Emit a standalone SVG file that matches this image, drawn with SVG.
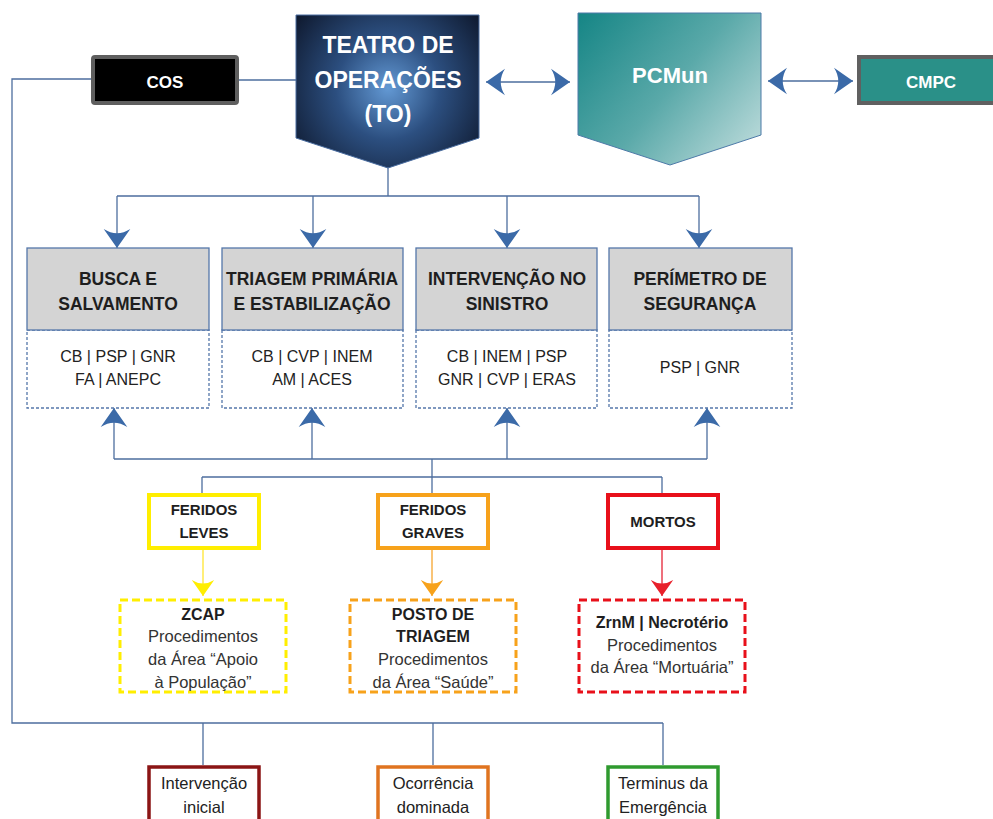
<svg xmlns="http://www.w3.org/2000/svg" width="993" height="819" viewBox="0 0 993 819">
<defs>
  <radialGradient id="gTO" cx="388" cy="88" r="115" gradientUnits="userSpaceOnUse">
    <stop offset="0" stop-color="#6399d4"/>
    <stop offset="0.45" stop-color="#2c4f80"/>
    <stop offset="1" stop-color="#0f1a30"/>
  </radialGradient>
  <linearGradient id="gPC" x1="578" y1="13" x2="761" y2="165" gradientUnits="userSpaceOnUse">
    <stop offset="0" stop-color="#158585"/>
    <stop offset="0.5" stop-color="#5aa9a9"/>
    <stop offset="1" stop-color="#c6e0e0"/>
  </linearGradient>
  <marker id="aB" viewBox="0 0 20 28" refX="20" refY="14" markerWidth="19" markerHeight="28" markerUnits="userSpaceOnUse" orient="auto-start-reverse">
    <path d="M0,0 L20,14 L0,28 Q9,14 0,0 Z" fill="#3b6aa8"/>
  </marker>
  <marker id="aY" viewBox="0 0 20 28" refX="20" refY="14" markerWidth="16" markerHeight="26" markerUnits="userSpaceOnUse" orient="auto">
    <path d="M0,0 L20,14 L0,28 Q9,14 0,0 Z" fill="#ffee00"/>
  </marker>
  <marker id="aO" viewBox="0 0 20 28" refX="20" refY="14" markerWidth="16" markerHeight="26" markerUnits="userSpaceOnUse" orient="auto">
    <path d="M0,0 L20,14 L0,28 Q9,14 0,0 Z" fill="#f7a21b"/>
  </marker>
  <marker id="aR" viewBox="0 0 20 28" refX="20" refY="14" markerWidth="16" markerHeight="26" markerUnits="userSpaceOnUse" orient="auto">
    <path d="M0,0 L20,14 L0,28 Q9,14 0,0 Z" fill="#e8202a"/>
  </marker>
</defs>
<style>
  text { font-family: "Liberation Sans", Arial, sans-serif; text-anchor: middle; }
  .conn { fill: none; stroke: #4d6e9e; stroke-width: 1.3; }
  .wb { fill: #ffffff; font-weight: bold; }
  .hd { fill: #d4d4d4; stroke: #5577aa; stroke-width: 1.3; }
  .bd { fill: #ffffff; stroke: #5577aa; stroke-width: 1.3; stroke-dasharray: 3 2; }
  .ht { font-size: 17.5px; font-weight: bold; fill: #1e1e1e; }
  .bt { font-size: 16px; fill: #222; }
  .ft { font-size: 15px; font-weight: bold; fill: #1e1e1e; }
  .pt { font-size: 16.5px; fill: #333; }
  .pb { font-size: 16px; font-weight: bold; fill: #1e1e1e; }
  .st { font-size: 16.5px; fill: #222; }
</style>

<g id="connectors">
  <path class="conn" d="M91,79 H12 V723 H663"/>
  <path class="conn" d="M239,80 H296"/>
  <path class="conn" d="M486,82 H570" marker-start="url(#aB)" marker-end="url(#aB)"/>
  <path class="conn" d="M768,81 H853" marker-start="url(#aB)" marker-end="url(#aB)"/>
  <path class="conn" d="M388,168 V196 M117,196 H699"/>
  <path class="conn" d="M117,196 V248" marker-end="url(#aB)"/>
  <path class="conn" d="M313,196 V248" marker-end="url(#aB)"/>
  <path class="conn" d="M507,196 V248" marker-end="url(#aB)"/>
  <path class="conn" d="M699,196 V248" marker-end="url(#aB)"/>
  <path class="conn" d="M114,459 H707"/>
  <path class="conn" d="M114,459 V408" marker-end="url(#aB)"/>
  <path class="conn" d="M312,459 V408" marker-end="url(#aB)"/>
  <path class="conn" d="M507,459 V408" marker-end="url(#aB)"/>
  <path class="conn" d="M707,459 V408" marker-end="url(#aB)"/>
  <path class="conn" d="M432,459 V477 M202,477 H662 M202,477 V493 M432,477 V493 M662,477 V493"/>
  <path d="M203,550 V596" fill="none" stroke="#ffe94d" stroke-width="1.5" marker-end="url(#aY)"/>
  <path d="M432,550 V596" fill="none" stroke="#f7b04a" stroke-width="1.5" marker-end="url(#aO)"/>
  <path d="M662,550 V596" fill="none" stroke="#e84050" stroke-width="1.5" marker-end="url(#aR)"/>
  <path class="conn" d="M203,723 V765 M433,723 V765 M663,723 V765"/>
</g>

<g id="cos">
  <rect x="93" y="57" width="144" height="46" rx="2" fill="#000" stroke="#5f5f5f" stroke-width="4"/>
  <text x="165" y="88" class="wb" font-size="17">COS</text>
</g>

<g id="to">
  <polygon points="296,15 479,15 479,138 388,168 296,138" fill="url(#gTO)" stroke="#4a6da0" stroke-width="1"/>
  <text x="388" y="53" class="wb" font-size="23">TEATRO DE</text>
  <text x="388" y="88" class="wb" font-size="23">OPERAÇÕES</text>
  <text x="388" y="122" class="wb" font-size="23">(TO)</text>
</g>

<g id="pcmun">
  <polygon points="578,13 761,13 761,135 670,165 578,135" fill="url(#gPC)" stroke="#4d7aa8" stroke-width="1"/>
  <text x="670" y="83" class="wb" font-size="22">PCMun</text>
</g>

<g id="cmpc">
  <rect x="859" y="57" width="140" height="46" fill="#2a9088" stroke="#606060" stroke-width="4"/>
  <text x="931" y="88" class="wb" font-size="17">CMPC</text>
</g>

<g id="busca">
  <rect class="bd" x="27" y="330" width="182" height="78"/>
  <rect class="hd" x="27" y="248" width="182" height="82"/>
  <text x="118" y="285" class="ht">BUSCA E</text>
  <text x="118" y="310" class="ht">SALVAMENTO</text>
  <text x="118" y="362" class="bt">CB | PSP | GNR</text>
  <text x="118" y="385" class="bt">FA | ANEPC</text>
</g>

<g id="triagem">
  <rect class="bd" x="222" y="330" width="181" height="78"/>
  <rect class="hd" x="222" y="248" width="181" height="82"/>
  <text x="312" y="285" class="ht">TRIAGEM PRIMÁRIA</text>
  <text x="312" y="310" class="ht">E ESTABILIZAÇÃO</text>
  <text x="312" y="362" class="bt">CB | CVP | INEM</text>
  <text x="312" y="385" class="bt">AM | ACES</text>
</g>

<g id="intervencao">
  <rect class="bd" x="416" y="330" width="181" height="78"/>
  <rect class="hd" x="416" y="248" width="181" height="82"/>
  <text x="507" y="285" class="ht">INTERVENÇÃO NO</text>
  <text x="507" y="310" class="ht">SINISTRO</text>
  <text x="507" y="362" class="bt">CB | INEM | PSP</text>
  <text x="507" y="385" class="bt">GNR | CVP | ERAS</text>
</g>

<g id="perimetro">
  <rect class="bd" x="609" y="330" width="183" height="78"/>
  <rect class="hd" x="609" y="248" width="183" height="82"/>
  <text x="700" y="285" class="ht">PERÍMETRO DE</text>
  <text x="700" y="310" class="ht">SEGURANÇA</text>
  <text x="700" y="373" class="bt">PSP | GNR</text>
</g>

<g id="feridos-leves">
  <rect x="149" y="495" width="110" height="53" fill="#fff" stroke="#ffee00" stroke-width="4"/>
  <text x="204" y="515" class="ft">FERIDOS</text>
  <text x="204" y="538" class="ft">LEVES</text>
</g>

<g id="feridos-graves">
  <rect x="378" y="495" width="110" height="53" fill="#fff" stroke="#f7a21b" stroke-width="4"/>
  <text x="433" y="515" class="ft">FERIDOS</text>
  <text x="433" y="538" class="ft">GRAVES</text>
</g>

<g id="mortos">
  <rect x="608" y="495" width="110" height="53" fill="#fff" stroke="#e8101a" stroke-width="4"/>
  <text x="663" y="527" class="ft">MORTOS</text>
</g>

<g id="zcap">
  <rect x="120" y="600" width="166" height="92" fill="#fff" stroke="#ffee00" stroke-width="3" stroke-dasharray="8 4"/>
  <text x="203" y="620" class="pb">ZCAP</text>
  <text x="203" y="642" class="pt">Procedimentos</text>
  <text x="203" y="665" class="pt">da Área “Apoio</text>
  <text x="203" y="688" class="pt">à População”</text>
</g>

<g id="posto">
  <rect x="350" y="600" width="166" height="92" fill="#fff" stroke="#f7a21b" stroke-width="3" stroke-dasharray="8 4"/>
  <text x="433" y="620" class="pb">POSTO DE</text>
  <text x="433" y="642" class="pb">TRIAGEM</text>
  <text x="433" y="665" class="pt">Procedimentos</text>
  <text x="433" y="688" class="pt">da Área “Saúde”</text>
</g>

<g id="zrnm">
  <rect x="579" y="600" width="166" height="92" fill="#fff" stroke="#e8101a" stroke-width="3" stroke-dasharray="8 4"/>
  <text x="662" y="628" class="pb">ZrnM | Necrotério</text>
  <text x="662" y="651" class="pt">Procedimentos</text>
  <text x="662" y="673" class="pt">da Área “Mortuária”</text>
</g>

<g id="intervencao-inicial">
  <rect x="149" y="767" width="110" height="70" fill="#fff" stroke="#8b1515" stroke-width="3.5"/>
  <text x="204" y="789" class="st">Intervenção</text>
  <text x="204" y="813" class="st">inicial</text>
</g>

<g id="ocorrencia">
  <rect x="378" y="767" width="110" height="70" fill="#fff" stroke="#e07420" stroke-width="3.5"/>
  <text x="433" y="789" class="st">Ocorrência</text>
  <text x="433" y="813" class="st">dominada</text>
</g>

<g id="terminus">
  <rect x="608" y="767" width="110" height="70" fill="#fff" stroke="#2f9a2f" stroke-width="3.5"/>
  <text x="663" y="789" class="st">Terminus da</text>
  <text x="663" y="813" class="st">Emergência</text>
</g>
</svg>
